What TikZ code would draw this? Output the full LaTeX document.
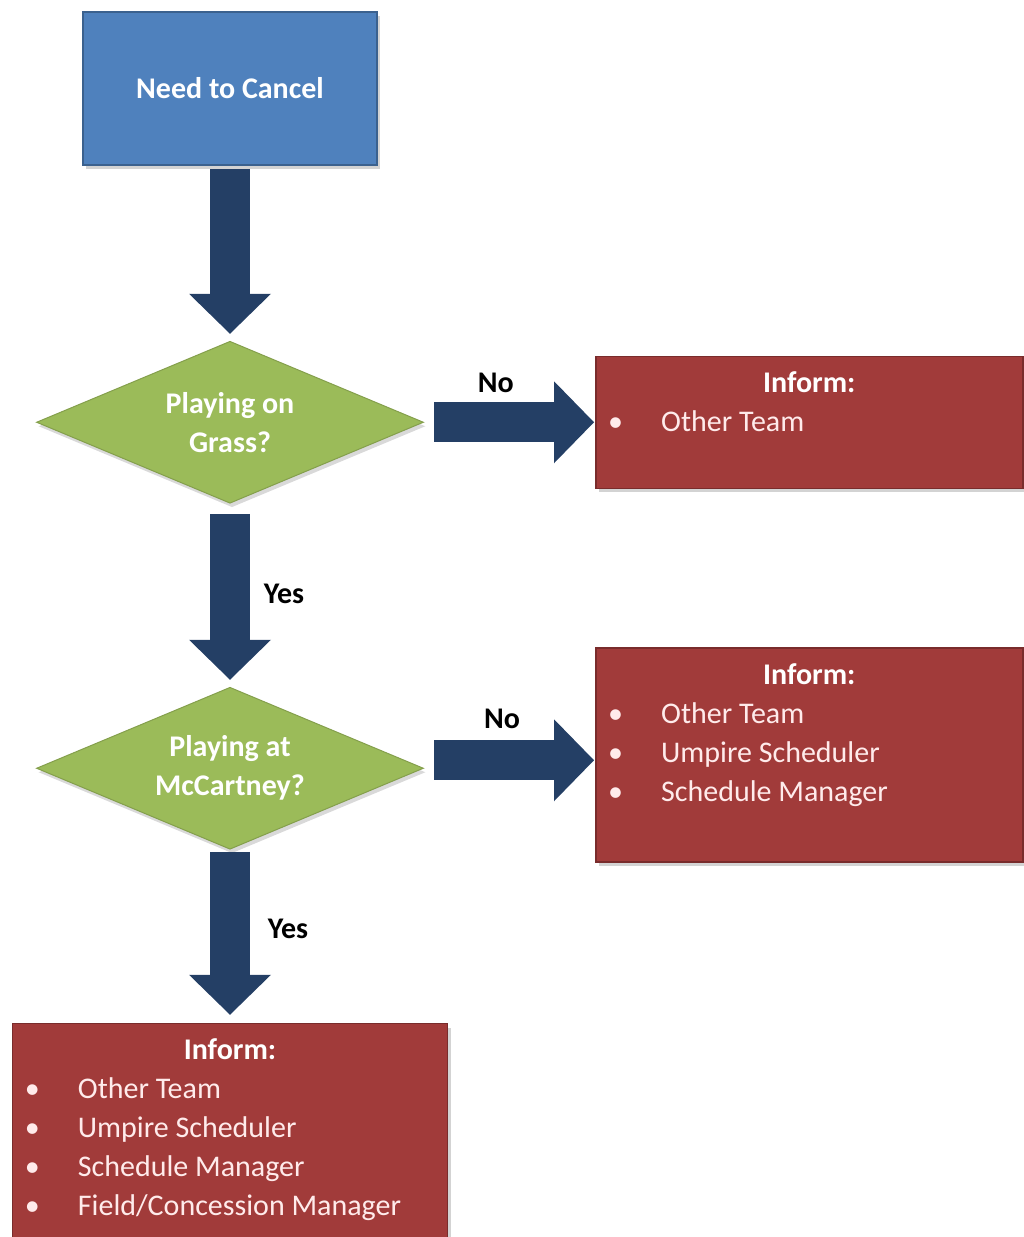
\documentclass[tikz,border=0pt]{standalone}
\usepackage{fontspec}
\setmainfont{Carlito}
\usepackage{tikz}
\usetikzlibrary{positioning}
\usetikzlibrary{shapes, shadows, arrows.meta}

\definecolor{cancelblue}{RGB}{79,129,189}
\definecolor{grassgreen}{RGB}{155,187,89}
\definecolor{informred}{RGB}{161,59,58}
\definecolor{flownavy}{RGB}{36,63,101}

\begin{document}
\begin{tikzpicture}[
      x=1pt, y=-1pt,
      font=\fontsize{30}{39}\selectfont,
      process/.style={rectangle, fill=cancelblue, draw=cancelblue!75!black, line width=1.5pt,
        minimum width=294pt, minimum height=153pt, text=white, font=\fontsize{30}{39}\selectfont\bfseries,
        drop shadow={shadow xshift=3pt, shadow yshift=-4pt, opacity=0.35}},
      decision/.style={diamond, fill=grassgreen, draw=grassgreen!85!black, line width=1pt, aspect=2.4,
        inner sep=0pt, minimum width=387pt, minimum height=162pt, align=center, text=white,
        font=\fontsize{30}{39}\selectfont\bfseries,
        drop shadow={shadow xshift=2pt, shadow yshift=-4pt, opacity=0.3}},
      inform/.style={rectangle, fill=informred, draw=informred!75!black, line width=1.5pt,
        minimum width=427pt, drop shadow={shadow xshift=3pt, shadow yshift=-4pt, opacity=0.35}},
      heading/.style={anchor=base, inner sep=0pt, text=white, font=\fontsize{30}{39}\selectfont\bfseries},
      items/.style={anchor=base west, inner sep=0pt, align=left, text=white!92!red},
      flow/.style={draw=flownavy, line width=40pt, -{Triangle[width=82pt, length=40pt, line width=0pt]}},
      answer/.style={text=black, font=\fontsize{30}{39}\selectfont\bfseries}
    ]
    \useasboundingbox (0,0) rectangle (1023,1237);

    \node(start)[process] at (230,88.5) {Need to Cancel};
    \node(grass)[decision, below=175pt of start] {Playing on\\Grass?};
    \node(mccart)[decision, below=183pt of grass] {Playing at\\McCartney?};
    \node(infoa)[inform, minimum height=132pt, right=171pt of grass] {};
    \node(infob)[inform, minimum height=214pt, right=171pt of mccart, yshift=13.5pt] {};
    \node(infoc)[inform, minimum width=435pt, minimum height=214pt, below=173pt of mccart] {};

    % lists: base anchor sits on the last line
    \node(infoa-t)[heading] at ([yshift=-37pt]infoa.north) {Inform:};
    \node(infoa-l)[items] at ([xshift=13pt, yshift=-76pt]infoa.north west)
      {\makebox[53pt][l]{\textbullet}Other Team};
    \node(infob-t)[heading] at ([yshift=-37pt]infob.north) {Inform:};
    \node(infob-l)[items] at ([xshift=13pt, yshift=-154pt]infob.north west)
      {\makebox[53pt][l]{\textbullet}Other Team\\
       \makebox[53pt][l]{\textbullet}Umpire Scheduler\\
       \makebox[53pt][l]{\textbullet}Schedule Manager};
    \node(infoc-t)[heading] at ([yshift=-37pt]infoc.north) {Inform:};
    \node(infoc-l)[items] at ([xshift=13pt, yshift=-193pt]infoc.north west)
      {\makebox[53pt][l]{\textbullet}Other Team\\
       \makebox[53pt][l]{\textbullet}Umpire Scheduler\\
       \makebox[53pt][l]{\textbullet}Schedule Manager\\
       \makebox[53pt][l]{\textbullet}Field/Concession Manager};

    \draw [flow, shorten <=3pt, shorten >=7pt] (start) -- (grass);
    \draw [flow, shorten <=10pt, shorten >=1pt] (grass) -- (infoa)
      node[answer, pos=0.42, yshift=39pt] {No};
    \draw [flow, shorten <=10pt, shorten >=7pt] (grass) -- (mccart)
      node[answer, pos=0.49, xshift=54pt] {Yes};
    \draw [flow, shorten <=10pt, shorten >=1pt] ([yshift=8pt]mccart.east) -- ([yshift=8pt]mccart.east -| infob.west)
      node[answer, pos=0.456, yshift=41pt] {No};
    \draw [flow, shorten <=2pt, shorten >=8pt] (mccart) -- (infoc)
      node[answer, pos=0.457, xshift=58pt] {Yes};
    \end{tikzpicture}
\end{document}
